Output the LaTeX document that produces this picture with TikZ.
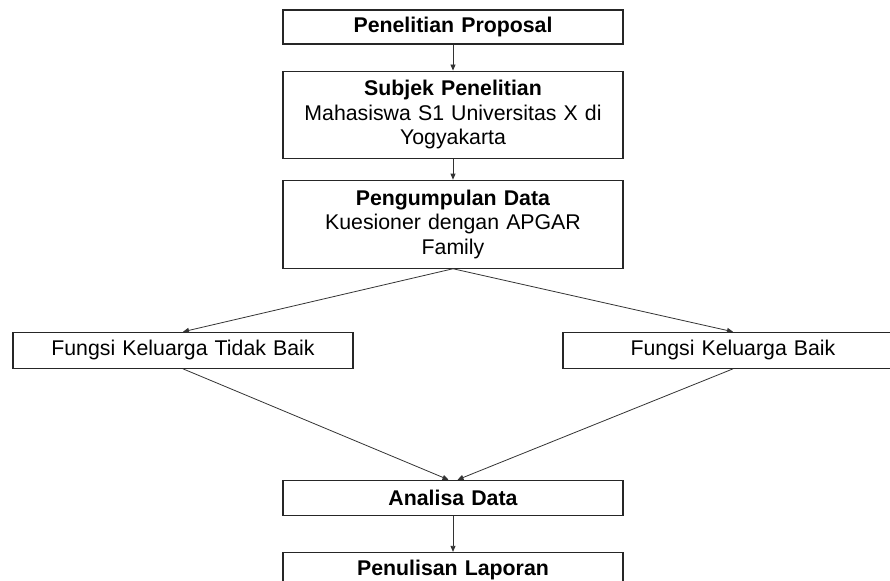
\documentclass[tikz,border=0pt]{standalone}
\usepackage{fontspec}
\setmainfont{Liberation Sans}
\usetikzlibrary{positioning}
\usetikzlibrary{arrows.meta}

\begin{document}
\begin{tikzpicture}[x=1pt,y=-1pt,>={Triangle[length=6pt,width=5pt]},
  main node/.style={rectangle,draw=black!85,line width=1.1pt,fill=white,
  font=\fontsize{21.3}{24.5}\selectfont,align=center,text width=330pt,
  minimum width=340pt,inner sep=0pt},
  link/.style={->,draw=black!80,line width=0.8pt}]
  \useasboundingbox (0,0) rectangle (890,580);

  \node[main node,minimum height=34pt] (prop) at (453,27) {\textbf{Penelitian Proposal}};
  \node[main node,minimum height=87pt] (subj) [below=26pt of prop]
    {\textbf{Subjek Penelitian}\\Mahasiswa S1 Universitas X di\\Yogyakarta};
  \node[main node,minimum height=88pt] (data) [below=21pt of subj]
    {\textbf{Pengumpulan Data}\\Kuesioner dengan APGAR\\Family};
  \node[main node,minimum height=36pt] (tidak) [below=63pt of data,xshift=-270pt]
    {Fungsi Keluarga Tidak Baik};
  \node[main node,minimum height=36pt] (baik) [below=63pt of data,xshift=280pt]
    {Fungsi Keluarga Baik};
  \node[main node,minimum height=35pt] (ana) [below=211pt of data] {\textbf{Analisa Data}};
  \node[main node,minimum height=35pt] (lap) [below=36pt of ana] {\textbf{Penulisan Laporan}};

  \draw[link] (prop) -- (subj);
  \draw[link] (subj) -- (data);
  % cabang ke dua hasil
  \draw[link] (data.south) -- (tidak.north);
  \draw[link] (data.south) -- (baik.north);
  % gabung ke analisa
  \draw[link] (tidak.south) -- ([xshift=-4.5pt]ana.north);
  \draw[link] (baik.south) -- ([xshift=4.5pt]ana.north);
  \draw[link] (ana) -- (lap);
\end{tikzpicture}
\end{document}
